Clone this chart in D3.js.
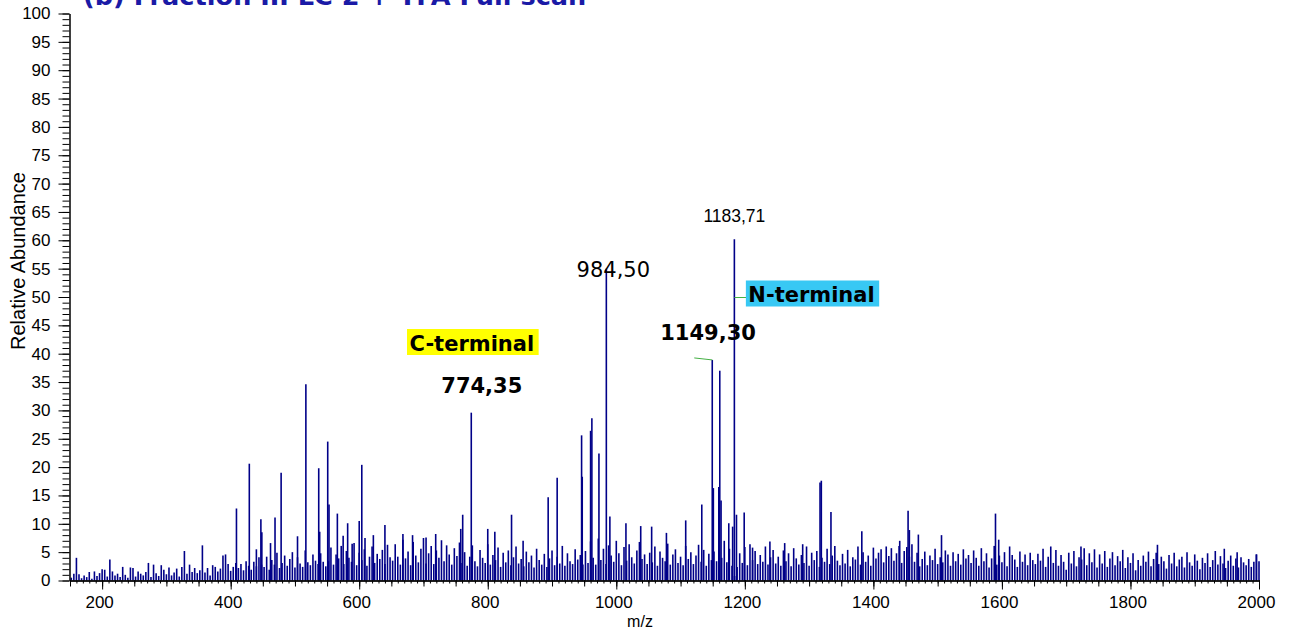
<!DOCTYPE html>
<html>
<head>
<meta charset="utf-8">
<script src="https://cdn.jsdelivr.net/npm/d3@7"></script>
<style>
  body { margin: 0; background: #ffffff; }
  svg { display: block; }
</style>
</head>
<body>
<svg id="chart" width="1291" height="631"></svg>
<script>
// ---- Spectrum data ----------------------------------------------------
const titleText = "(b) Fraction III LC 2 + TFA Full scan";
const xLabel = "m/z";
const yLabel = "Relative Abundance";

const xTickValues = [200, 400, 600, 800, 1000, 1200, 1400, 1600, 1800, 2000];
const yTickValues = [0, 5, 10, 15, 20, 25, 30, 35, 40, 45, 50, 55, 60, 65, 70, 75, 80, 85, 90, 95, 100];

// Background ion signal, one reading every 4 m/z from m/z 152
const noiseStartMz = 152;
const noiseStepMz = 4;
const noiseAbundance = [
  0.5,1.2,4.0,1.1,0.4,0.9,0.6,1.5,0.3,1.6,0.8,1.3,2.0,1.9,0.7,3.7,1.6,0.9,1.2,0.6,2.4,1.0,0.5,2.3,2.2,
  0.7,1.6,1.2,0.9,1.5,3.1,0.6,2.8,1.3,0.8,2.7,1.9,1.1,2.3,0.9,1.4,2.1,0.7,2.4,5.2,1.2,2.8,1.5,2.2,1.3,
  1.8,6.2,1.4,2.2,0.9,2.7,2.4,1.6,2.1,4.4,4.6,2.9,1.7,2.4,3.1,2.2,2.9,1.8,3.4,2.6,1.9,3.3,2.5,4.1,2.8,
  2.4,4.2,1.9,3.6,2.8,4.9,2.2,3.1,4.4,2.6,3.8,5.0,2.3,4.1,3.0,2.4,5.3,3.2,2.7,4.6,3.5,2.9,4.8,3.3,2.5,
  3.4,5.8,2.8,4.6,3.9,6.1,2.9,5.2,4.0,3.3,6.6,2.7,4.9,3.6,5.5,2.6,4.2,6.0,3.1,4.7,3.8,5.4,2.9,6.3,4.1,
  3.5,6.4,4.2,2.8,7.2,3.9,5.1,2.7,6.8,4.4,3.2,5.6,7.5,3.0,4.8,6.1,2.9,5.3,4.0,7.1,3.4,6.2,4.6,2.8,5.7,
  4.3,6.7,3.1,5.0,2.6,4.2,6.2,3.4,2.5,5.4,4.0,3.1,6.4,2.8,4.5,3.6,5.8,2.4,4.9,3.2,5.3,2.7,4.1,6.0,3.0,
  3.8,2.5,5.1,3.2,4.4,2.3,5.6,3.6,2.8,4.7,2.4,3.9,5.3,2.7,4.2,3.0,6.1,2.6,4.8,3.4,2.9,5.5,3.7,4.5,2.8,
  5.2,3.1,6.9,4.0,2.8,7.4,3.6,5.6,2.9,6.2,4.4,3.3,7.0,4.8,2.7,5.9,3.5,6.4,4.1,3.0,5.3,6.8,3.8,4.6,2.9,
  4.9,3.2,6.0,2.6,5.1,4.0,3.4,6.5,2.8,4.6,5.5,3.1,4.2,2.7,6.1,3.8,5.0,2.9,4.4,6.3,3.3,5.4,2.6,4.7,3.6,
  5.1,3.4,6.2,4.0,7.0,3.2,5.6,2.6,0.8,2.4,4.8,3.1,5.9,2.7,6.4,3.6,5.2,2.9,4.5,3.3,6.0,2.8,4.1,5.4,3.0,
  4.2,2.6,5.3,3.4,4.8,2.5,5.7,3.9,2.8,4.5,3.1,6.0,2.6,4.9,3.6,5.2,2.4,4.0,3.3,5.6,2.9,4.4,6.1,3.5,2.7,
  4.7,3.0,5.4,2.5,4.1,3.7,6.0,2.8,5.0,3.3,4.4,2.6,5.8,3.9,4.9,5.5,3.2,6.0,4.3,5.7,3.5,4.8,6.1,3.1,5.2,
  5.9,4.2,6.4,3.3,4.9,2.5,3.8,5.1,2.7,4.4,3.6,5.6,2.9,4.1,3.2,5.3,4.6,2.6,5.0,3.4,4.7,2.8,5.5,3.9,4.5,
  3.1,5.3,4.0,2.6,5.7,3.4,4.8,2.3,3.9,6.1,2.8,4.4,3.2,5.0,2.5,6.0,4.5,3.7,2.4,5.1,3.3,4.6,2.7,4.9,3.6,
  2.9,4.7,3.5,5.6,2.4,4.2,6.0,3.1,5.4,2.6,4.5,3.3,1.9,4.9,3.0,5.2,2.5,4.1,3.7,5.7,2.7,4.8,3.2,5.5,2.3,
  4.6,3.0,5.2,2.4,3.9,5.0,2.7,4.3,3.4,5.4,2.2,4.1,3.1,4.8,1.8,3.6,2.6,4.4,3.3,5.1,2.5,3.8,4.9,2.9,4.2,
  3.4,2.1,4.5,3.0,4.9,2.5,3.7,4.2,2.3,5.0,3.2,2.6,4.6,3.5,2.0,4.0,3.1,4.8,2.4,3.6,5.2,2.8,4.3,3.0,2.2,
  3.5,4.4,2.6,3.9,2.3,4.1,3.2,2.7,3.8,2.4,3.3,4.6,3.4
];

// Resolved ion peaks above the background
const peakMz = [
  409, 429, 440, 447, 448.5, 462, 469, 478.5, 504, 517, 537, 538.5, 551, 553, 566, 575, 582, 589,
  600, 604, 609, 622, 640, 668, 683, 704, 719, 758, 761, 774.35, 800, 811, 837, 855, 894, 908,
  946, 947, 960, 962, 973, 984.50, 990, 1015, 1038, 1055, 1078, 1108, 1133, 1149.30, 1151,
  1159.5, 1161, 1163, 1175, 1181, 1183.71, 1187, 1199, 1212, 1239, 1262, 1290, 1317, 1319,
  1334, 1382, 1441, 1454, 1456, 1470, 1506, 1590, 1595, 1723, 1842, 1946, 1966, 1996
];
const peakAbundance = [
  12.7, 20.6, 5.5, 10.8, 8.5, 6.6, 11.1, 19.0, 7.8, 34.6, 19.8, 8.6, 24.5, 13.4, 11.8, 7.9, 10.1, 6.5,
  10.5, 20.4, 7.5, 8.0, 9.8, 8.2, 8.0, 7.6, 8.2, 9.1, 11.6, 29.6, 9.1, 8.6, 11.6, 7.0, 14.7, 18.1,
  25.6, 18.3, 26.4, 28.6, 22.4, 55.0, 11.3, 10.1, 9.6, 9.5, 8.4, 10.6, 13.4, 38.9, 16.3,
  16.5, 37.0, 14.1, 10.1, 9.5, 60.2, 11.6, 12.0, 5.8, 6.9, 6.6, 6.4, 17.3, 17.6,
  12.1, 8.7, 7.0, 12.3, 8.9, 8.1, 8.0, 11.8, 7.2, 6.0, 6.3, 5.6, 5.0, 4.6
];

// Peak annotations
const annotationMz = [984.50, 1183.71, 1149.30, 774.35];
const annotationText = ["984,50", "1183,71", "1149,30", "774,35"];

// ---- Layout ----------------------------------------------------------
const svg = d3.select("#chart");
const x = d3.scaleLinear().domain([150, 2000]).range([70, 1259]);
const y = d3.scaleLinear().domain([0, 100]).range([580.5, 13.5]);

const tickFont = "'Liberation Sans', Arial, sans-serif";
const boldFont = "'DejaVu Sans', Verdana, sans-serif";
const barColor = "#000088";

// Title, partly clipped by the top edge
svg.append("text")
  .attr("x", 83).attr("y", 5)
  .attr("font-family", boldFont).attr("font-weight", "bold")
  .attr("font-size", 25.6).attr("fill", "#1a1aa6")
  .text(titleText);

// Spectrum sticks
const spectrum = [];
noiseAbundance.forEach((v, i) => spectrum.push({ mz: noiseStartMz + i * noiseStepMz, ab: v }));
peakMz.forEach((m, i) => spectrum.push({ mz: m, ab: peakAbundance[i] }));

svg.append("g").selectAll("line").data(spectrum).join("line")
  .attr("x1", d => x(d.mz)).attr("x2", d => x(d.mz))
  .attr("y1", y(0)).attr("y2", d => y(d.ab))
  .attr("stroke", barColor).attr("stroke-width", 1.6);

// ---- Axes ------------------------------------------------------------
function styleAxis(g) {
  g.select(".domain").attr("stroke", "#000").attr("stroke-width", 1);
  g.selectAll(".tick line").attr("stroke", "#000").attr("stroke-width", 1);
  g.selectAll(".tick text").attr("font-family", tickFont).attr("font-size", 17).attr("fill", "#000");
}

// y axis: minor every 1, labelled every 5
const yMinor = d3.range(0, 101, 1);
svg.append("g").attr("transform", "translate(69.5,0)")
  .call(d3.axisLeft(y).tickValues(yMinor).tickSize(7).tickSizeOuter(0).tickFormat(""))
  .call(styleAxis);
svg.append("g").attr("transform", "translate(69.5,0)")
  .call(d3.axisLeft(y).tickValues(yTickValues).tickSize(11).tickSizeOuter(0).tickPadding(8))
  .call(styleAxis);

// x axis: minor every 10, medium every 50, labelled every 200
const xMinor = d3.range(150, 2001, 10);
const xMedium = d3.range(150, 2001, 50);
svg.append("g").attr("transform", "translate(0,580.5)")
  .call(d3.axisBottom(x).tickValues(xMinor).tickSize(3).tickSizeOuter(0).tickFormat(""))
  .call(styleAxis);
svg.append("g").attr("transform", "translate(0,580.5)")
  .call(d3.axisBottom(x).tickValues(xMedium).tickSize(6).tickSizeOuter(0).tickFormat(""))
  .call(styleAxis);
const xAxisG = svg.append("g").attr("transform", "translate(0,580.5)")
  .call(d3.axisBottom(x).tickValues(xTickValues).tickSize(9).tickSizeOuter(0).tickPadding(6)
    .tickFormat(d3.format("d")))
  .call(styleAxis);
xAxisG.selectAll(".tick text").attr("dx", -3);

// Axis titles
svg.append("text")
  .attr("x", 640).attr("y", 627).attr("text-anchor", "middle")
  .attr("font-family", tickFont).attr("font-size", 16).text(xLabel);
svg.append("text")
  .attr("transform", "translate(25,261) rotate(-90)").attr("text-anchor", "middle")
  .attr("font-family", tickFont).attr("font-size", 20).text(yLabel);

// ---- Annotations -----------------------------------------------------
const ab = m => peakAbundance[peakMz.indexOf(m)];

// 984,50
svg.append("text")
  .attr("x", x(annotationMz[0]) + 7).attr("y", y(ab(annotationMz[0])) + 8)
  .attr("text-anchor", "middle").attr("font-family", boldFont)
  .attr("font-size", 21).attr("fill", "#000").text(annotationText[0]);

// 1183,71
svg.append("text")
  .attr("x", x(annotationMz[1])).attr("y", y(ab(annotationMz[1])) - 17)
  .attr("text-anchor", "middle").attr("font-family", tickFont)
  .attr("font-size", 17.5).attr("fill", "#000").text(annotationText[1]);

// 1149,30 with its leader
const p1149x = x(annotationMz[2]), p1149y = y(ab(annotationMz[2]));
svg.append("line")
  .attr("x1", p1149x - 18).attr("y1", p1149y - 2).attr("x2", p1149x).attr("y2", p1149y)
  .attr("stroke", "#44b044").attr("stroke-width", 1);
svg.append("text")
  .attr("x", p1149x - 52).attr("y", p1149y - 20)
  .attr("font-family", boldFont).attr("font-weight", "bold")
  .attr("font-size", 21).attr("fill", "#000").text(annotationText[2]);

// 774,35
svg.append("text")
  .attr("x", x(annotationMz[3]) - 30).attr("y", y(ab(annotationMz[3])) - 20)
  .attr("font-family", boldFont).attr("font-weight", "bold")
  .attr("font-size", 21).attr("fill", "#000").text(annotationText[3]);

// Highlighted region labels
function tagLabel(text, lx, baseline, fill) {
  const g = svg.append("g");
  const t = g.append("text")
    .attr("x", lx).attr("y", baseline)
    .attr("font-family", boldFont).attr("font-weight", "bold")
    .attr("font-size", 21).attr("fill", "#000").text(text);
  const bb = t.node().getBBox();
  g.insert("rect", "text")
    .attr("x", lx - 2.5).attr("y", baseline - 21.5)
    .attr("width", bb.width + 7).attr("height", 26)
    .attr("fill", fill);
  return g;
}
tagLabel("C-terminal", 409.5, 350.5, "#ffff00");
const nTop = x(annotationMz[1]);
svg.append("line")
  .attr("x1", nTop).attr("y1", 297.5).attr("x2", nTop + 12).attr("y2", 297.5)
  .attr("stroke", "#44b044").attr("stroke-width", 1);
tagLabel("N-terminal", nTop + 14, 302, "#38c8f4");
</script>
</body>
</html>
